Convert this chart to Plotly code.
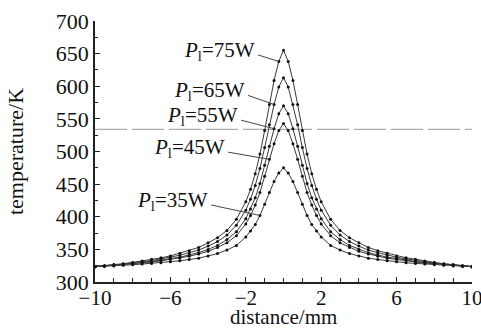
import plotly.graph_objects as go

# distance along the scan line (mm); finer spacing near the spot centre
distance_mm = [-10, -9.5, -9, -8.5, -8, -7.5, -7, -6.5, -6, -5.5, -5, -4.5, -4, -3.5, -3, -2.5, -2,
               -1.75, -1.5, -1.25, -1, -0.75, -0.5, -0.25, 0, 0.25, 0.5, 0.75, 1, 1.25, 1.5, 1.75,
               2, 2.5, 3, 3.5, 4, 4.5, 5, 5.5, 6, 6.5, 7, 7.5, 8, 8.5, 9, 9.5, 10]

# temperature profiles (K) for each laser power
temp_75W = [324, 325, 327, 328, 330, 332, 335, 337, 340, 344, 348, 353, 360, 368, 379, 396, 423,
            442, 466, 496, 532, 572, 609, 638, 655, 638, 609, 572, 532, 496, 466, 442,
            423, 396, 379, 368, 360, 353, 348, 344, 340, 337, 335, 332, 330, 328, 327, 325, 324]
temp_65W = [323.5, 324.5, 326, 327.5, 329.5, 331, 333, 335.5, 338, 341, 345, 349, 355, 362, 372, 387, 410,
            427, 448, 474, 506, 541, 572, 599, 613, 599, 572, 541, 506, 474, 448, 427,
            410, 387, 372, 362, 355, 349, 345, 341, 338, 335.5, 333, 331, 329.5, 327.5, 326, 324.5, 323.5]
temp_55W = [323.5, 324.5, 325.5, 327, 328.5, 330, 331.5, 333.5, 336, 338, 341.5, 345, 350, 356, 365, 377, 397,
            412, 429, 451, 479, 508, 535, 558, 570, 558, 535, 508, 479, 451, 429, 412,
            397, 377, 365, 356, 350, 345, 341.5, 338, 336, 333.5, 331.5, 330, 328.5, 327, 325.5, 324.5, 323.5]
temp_45W = [323.5, 324.5, 325.5, 326.5, 328, 329, 330.5, 332.5, 334.5, 336.5, 339.5, 343, 347, 353, 360, 371, 389,
            402, 418, 437, 462, 488, 512, 532, 543, 532, 512, 488, 462, 437, 418, 402,
            389, 371, 360, 353, 347, 343, 339.5, 336.5, 334.5, 332.5, 330.5, 329, 328, 326.5, 325.5, 324.5, 323.5]
temp_35W = [323.5, 324, 324.5, 325.5, 326.5, 327.5, 328.5, 329.5, 331, 332.5, 334.5, 336.5, 340, 343.5, 349, 356, 369,
            378, 388, 402, 419, 437, 454, 467, 475, 467, 454, 437, 419, 402, 388, 378,
            369, 356, 349, 343.5, 340, 336.5, 334.5, 332.5, 331, 329.5, 328.5, 327.5, 326.5, 325.5, 324.5, 324, 323.5]

power_labels = ["75W", "65W", "55W", "45W", "35W"]
threshold_K = 534

x_ticks = [-10, -6, -2, 2, 6, 10]
y_ticks = [300, 350, 400, 450, 500, 550, 600, 650, 700]

series = [temp_75W, temp_65W, temp_55W, temp_45W, temp_35W]

# label placement: (right end x, centre y) of each label, and the data index the leader points to
label_pos = [(-1.40, 654), (-1.93, 592), (-2.30, 554), (-2.99, 505), (-3.89, 424)]
leader_idx = [23, 22, 22, 21, 19]

serif = "Times New Roman, Liberation Serif, Times, serif"
fig = go.Figure()

fig.add_shape(type="line", xref="x", yref="y", x0=-10, x1=10, y0=threshold_K, y1=threshold_K,
              line=dict(color="#9a9a9a", width=1, dash="32px,5px"), layer="below")

for temps, name in zip(series, power_labels):
    fig.add_trace(go.Scatter(
        x=distance_mm, y=temps, mode="lines+markers", name=name,
        line=dict(color="#3a3a3a", width=1),
        marker=dict(color="#111111", size=3),
        showlegend=False,
    ))

for (tx, ty), idx, temps, name in zip(label_pos, leader_idx, series, power_labels):
    fig.add_annotation(x=tx, y=ty, xref="x", yref="y", showarrow=False,
                       xanchor="right", yanchor="middle",
                       text="<i>P</i><sub>l</sub>=" + name,
                       font=dict(family=serif, size=21, color="#111"))
    fig.add_shape(type="line", xref="x", yref="y",
                  x0=tx + 0.05, y0=ty - 6, x1=distance_mm[idx], y1=temps[idx],
                  line=dict(color="#444", width=1))

# x-axis title, set just below the tick labels
fig.add_annotation(x=0.5, y=-0.133, xref="paper", yref="paper", showarrow=False,
                   xanchor="center", yanchor="middle", text="distance/mm", borderpad=0,
                   font=dict(family=serif, size=21, color="#111"))

fig.update_layout(
    width=481, height=329,
    margin=dict(l=95, r=9, t=21, b=47),
    paper_bgcolor="white", plot_bgcolor="white",
    font=dict(family=serif, size=21, color="#111"),
)
fig.update_xaxes(
    range=[-10, 10], tickvals=x_ticks, ticks="inside", ticklen=5, tickcolor="#222",
    minor=dict(ticks="inside", dtick=1, tick0=-10, ticklen=4, tickcolor="#222"),
    showline=True, linecolor="#222", linewidth=1.5, showgrid=False, zeroline=False,
    ticklabeloverflow="allow", automargin=False, ticklabelstandoff=-4,
    tickfont=dict(family=serif, size=21),
)
fig.update_yaxes(
    range=[300, 700], tickvals=y_ticks, ticks="inside", ticklen=5, tickcolor="#222",
    minor=dict(ticks="inside", dtick=25, tick0=300, ticklen=3, tickcolor="#222"),
    showline=True, linecolor="#222", linewidth=1.5, showgrid=False, zeroline=False,
    automargin=False,
    title=dict(text="temperature/K", standoff=26, font=dict(family=serif, size=22)),
    tickfont=dict(family=serif, size=22),
)

fig.write_html("out.html")
